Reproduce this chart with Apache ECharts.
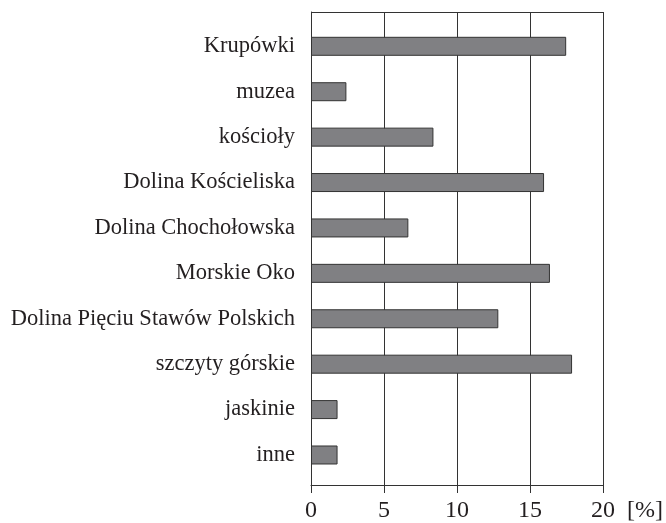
<!DOCTYPE html>
<html>
<head>
<meta charset="utf-8">
<script src="https://cdn.jsdelivr.net/npm/echarts@6/dist/echarts.min.js"></script>
<style>
  html, body { margin: 0; padding: 0; background: #fff; }
  #chart { width: 666px; height: 523px; }
</style>
</head>
<body>
<div id="chart"></div>
<script>
  var categories = ['Krupówki', 'muzea', 'kościoły', 'Dolina Kościeliska', 'Dolina Chochołowska',
    'Morskie Oko', 'Dolina Pięciu Stawów Polskich', 'szczyty górskie', 'jaskinie', 'inne'];
  var values = [17.3, 2.4, 8.3, 15.8, 6.6, 16.2, 12.7, 17.7, 1.8, 1.8];
  var xTicks = [0, 5, 10, 15, 20];

  var font = 'Liberation Serif';
  var ink = '#231f20';

  var chart = echarts.init(document.getElementById('chart'));
  chart.setOption({
    backgroundColor: '#fff',
    animation: false,
    grid: [
      // frame + gridlines
      { left: 311, right: 60, top: 12, bottom: 38 },
      // bars
      { left: 311, right: 60, top: 23.6, bottom: 45.3 }
    ],
    xAxis: [
      {
        gridIndex: 0,
        type: 'value',
        min: xTicks[0],
        max: xTicks[xTicks.length - 1],
        interval: 5,
        name: '[%]',
        nameLocation: 'end',
        nameGap: 24,
        nameTextStyle: { color: ink, fontFamily: font, fontSize: 24, verticalAlign: 'top', padding: [14, 0, 0, 0] },
        axisLine: { show: true, lineStyle: { color: '#333', width: 1 } },
        axisTick: { show: true, inside: false, length: 8, lineStyle: { color: '#333' } },
        axisLabel: { color: ink, fontFamily: font, fontSize: 24, margin: 14 },
        splitLine: { show: true, lineStyle: { color: '#333', width: 1 } }
      },
      {
        gridIndex: 1,
        type: 'value',
        min: xTicks[0],
        max: xTicks[xTicks.length - 1],
        show: false
      }
    ],
    yAxis: [
      {
        gridIndex: 0,
        type: 'value',
        min: 0,
        max: 1,
        interval: 1,
        axisLabel: { show: false },
        axisTick: { show: false },
        axisLine: { show: true, lineStyle: { color: '#333', width: 1 } },
        splitLine: { show: true, lineStyle: { color: '#333', width: 1 } }
      },
      {
        gridIndex: 1,
        type: 'category',
        inverse: true,
        data: categories,
        axisLine: { show: false },
        axisTick: { show: false },
        splitLine: { show: false },
        axisLabel: { color: ink, fontFamily: font, fontSize: 22.5, margin: 16 }
      }
    ],
    series: [
      {
        type: 'bar',
        xAxisIndex: 1,
        yAxisIndex: 1,
        data: values,
        barWidth: 19,
        itemStyle: { color: '#808083', borderColor: '#333', borderWidth: 1 }
      }
    ]
  });
</script>
</body>
</html>
